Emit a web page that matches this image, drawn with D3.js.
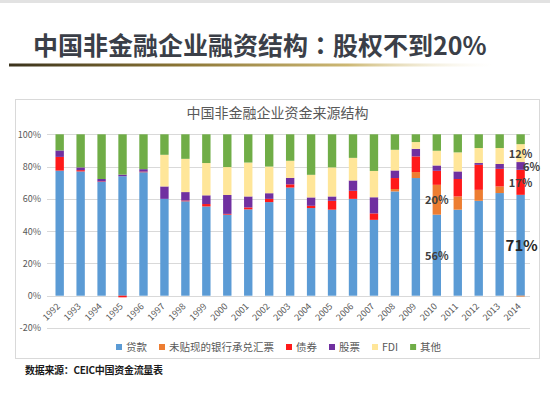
<!DOCTYPE html>
<html>
<head>
<meta charset="utf-8">
<script src="https://cdn.jsdelivr.net/npm/d3@7"></script>
<style>
  body { margin: 0; background: #fff; }
  svg { display: block; font-family: "Noto Sans CJK SC", "Noto Sans", sans-serif; }
</style>
</head>
<body>
<svg id="chart" width="550" height="399"></svg>
<script>
const years = ["1992","1993","1994","1995","1996","1997","1998","1999","2000","2001","2002","2003",
  "2004","2005","2006","2007","2008","2009","2010","2011","2012","2013","2014"];

// shares of total funding, %
const loan  = [77.5, 77, 70.5, 74, 76.5, 60, 58.5, 55.3, 50.2, 53.5, 58, 67, 54.3, 53.3, 60, 47, 64.6, 72.9, 50.2, 53.3, 58.8, 63.6, 62.5];
const bill  = [0, 0, 0, 0, 0, 0, 0, 0, 0, 0, 0, 0, 0, 0, 0, 0, 1.5, 3.7, 18.5, 8.2, 6.8, 4.1, -0.5];
const bond  = [8.5, 0.8, 0.3, -1, 0.4, 0, 0.5, 1.5, 0.5, 1.2, 2, 2, 1.4, 5.5, 5, 4, 6.8, 9.7, 8.7, 10.8, 15.5, 10.9, 15.5];
const stock = [4, 1.7, 1.5, 1, 1.5, 7.7, 5.2, 5.4, 11.7, 6.8, 3.5, 4, 5.2, 2.7, 6.4, 10, 4.7, 4.7, 3.3, 4.7, 1.1, 3, 4.8];
const fdi   = [0, 0, 0, 0, 0, 19.6, 20.6, 20, 17.3, 21, 16.5, 10.6, 14, 18, 14, 16.3, 12.8, 4.2, 9.1, 11.8, 9.3, 9.9, 11.1];
const other = [10, 20.5, 27.7, 25, 21.6, 12.7, 15.2, 17.8, 20.3, 17.5, 20, 16.4, 25.1, 20.5, 14.6, 22.7, 9.6, 4.8, 10.2, 11.2, 8.5, 8.5, 6.1];

const seriesNames = ["贷款", "未贴现的银行承兑汇票", "债券", "股票", "FDI", "其他"];
const seriesValues = [loan, bill, bond, stock, fdi, other];
const colors = ["#5b9bd5", "#ed7d31", "#ff1a1a", "#7030a0", "#ffe699", "#70ad47"];

const yTicks = [-20, 0, 20, 40, 60, 80, 100];

// hand-placed callouts on the chart
const notes = [
  {year: "2010", v: 59.3, text: "20%", big: false, dx: 0},
  {year: "2010", v: 24.6, text: "56%", big: false, dx: 0},
  {year: "2014", v: 88, text: "12%", big: false, dx: 0},
  {year: "2014", v: 79.7, text: "6%", big: false, dx: 11},
  {year: "2014", v: 69.8, text: "17%", big: false, dx: 0},
  {year: "2014", v: 30.8, text: "71%", big: true, dx: 1}
];

const svg = d3.select("#chart");

// top strip
svg.append("rect").attr("x", 0).attr("y", 0).attr("width", 550).attr("height", 3).attr("fill", "#e2e2e2");

// page title (colon taken from the TC face so it sits centred)
const title = svg.append("text")
    .attr("x", 33).attr("y", 54.5)
    .attr("font-size", 25).attr("font-weight", "bold")
    .attr("fill", "#3b3f48");
title.append("tspan").text("中国非金融企业融资结构");
title.append("tspan").attr("font-family", "\"Noto Sans CJK TC\", sans-serif").text("：");
title.append("tspan").text("股权不到20%");

const grad = svg.append("defs").append("linearGradient").attr("id", "ul");
grad.append("stop").attr("offset", "0%").attr("stop-color", "#3a321c");
grad.append("stop").attr("offset", "35%").attr("stop-color", "#8a7434");
grad.append("stop").attr("offset", "70%").attr("stop-color", "#cdb874");
grad.append("stop").attr("offset", "100%").attr("stop-color", "#f6f0dc").attr("stop-opacity", 0);
svg.append("rect").attr("x", 9).attr("y", 63.5).attr("width", 484).attr("height", 3).attr("fill", "url(#ul)");

// chart frame
svg.append("rect")
    .attr("x", 15.5).attr("y", 99.5).attr("width", 524).attr("height", 259)
    .attr("fill", "#fff").attr("stroke", "#d9d9d9");

svg.append("text")
    .attr("x", 277.5).attr("y", 118)
    .attr("text-anchor", "middle")
    .attr("font-size", 14).attr("fill", "#595959")
    .text("中国非金融企业资金来源结构");

const x = d3.scaleBand()
    .domain(years)
    .range([51.3, 529])
    .paddingInner(0.6)
    .paddingOuter(0.2);

const y = d3.scaleLinear()
    .domain([-20, 100])
    .range([328, 134.3]);

// gridlines
svg.append("g")
  .selectAll("line")
  .data(yTicks)
  .join("line")
    .attr("x1", 47).attr("x2", 530)
    .attr("y1", d => Math.round(y(d)) + 0.5).attr("y2", d => Math.round(y(d)) + 0.5)
    .attr("stroke", "#d9d9d9");

const yAxis = svg.append("g")
    .attr("transform", "translate(41,0)")
    .call(d3.axisLeft(y).tickValues(yTicks).tickSize(0).tickPadding(0).tickFormat(d => d + "%"));
yAxis.select(".domain").remove();
yAxis.selectAll("text")
    .attr("font-family", "\"Noto Sans CJK SC\", sans-serif")
    .attr("font-size", 9).attr("fill", "#595959");

// stacked bars
const rows = years.map((yr, i) => {
  const r = {year: yr};
  seriesNames.forEach((s, k) => r[s] = seriesValues[k][i]);
  return r;
});

const stacked = d3.stack()
    .keys(seriesNames)
    .offset(d3.stackOffsetDiverging)(rows);

svg.append("g")
  .selectAll("g")
  .data(stacked)
  .join("g")
    .attr("fill", (d, i) => colors[i])
  .selectAll("rect")
  .data(d => d)
  .join("rect")
    .attr("x", d => x(d.data.year))
    .attr("width", x.bandwidth())
    .attr("y", d => y(Math.max(d[0], d[1])))
    .attr("height", d => Math.abs(y(d[0]) - y(d[1])));

// x labels
svg.append("g")
  .selectAll("text")
  .data(years)
  .join("text")
    .attr("transform", d => `translate(${x(d) + x.bandwidth() / 2 + 1},307) rotate(-45)`)
    .attr("text-anchor", "end")
    .attr("font-size", 9).attr("fill", "#595959")
    .text(d => d);

// callouts
svg.append("g")
  .selectAll("text")
  .data(notes)
  .join("text")
    .attr("x", d => x(d.year) + x.bandwidth() / 2 + d.dx)
    .attr("y", d => y(d.v))
    .attr("dy", "0.35em")
    .attr("text-anchor", "middle")
    .attr("font-size", d => d.big ? 15 : 11)
    .attr("font-weight", "bold")
    .attr("fill", d => d.big ? "#262626" : "#404040")
    .text(d => d.text);

// legend
const legend = svg.append("g").attr("transform", "translate(116,347)");
let lx = 0;
seriesNames.forEach((name, i) => {
  const item = legend.append("g").attr("transform", `translate(${lx},0)`);
  item.append("rect").attr("x", 0).attr("y", -3).attr("width", 6).attr("height", 6).attr("fill", colors[i]);
  const t = item.append("text")
      .attr("x", 10).attr("y", 0).attr("dy", "0.35em")
      .attr("font-size", 10.5).attr("fill", "#595959")
      .text(name);
  lx += 10 + t.node().getComputedTextLength() + 12;
});

// source
svg.append("text")
    .attr("x", 25).attr("y", 374)
    .attr("font-size", 10).attr("font-weight", "bold")
    .attr("fill", "#1a1a1a")
    .attr("letter-spacing", -0.3)
    .text("数据来源：CEIC中国资金流量表");
</script>
</body>
</html>
